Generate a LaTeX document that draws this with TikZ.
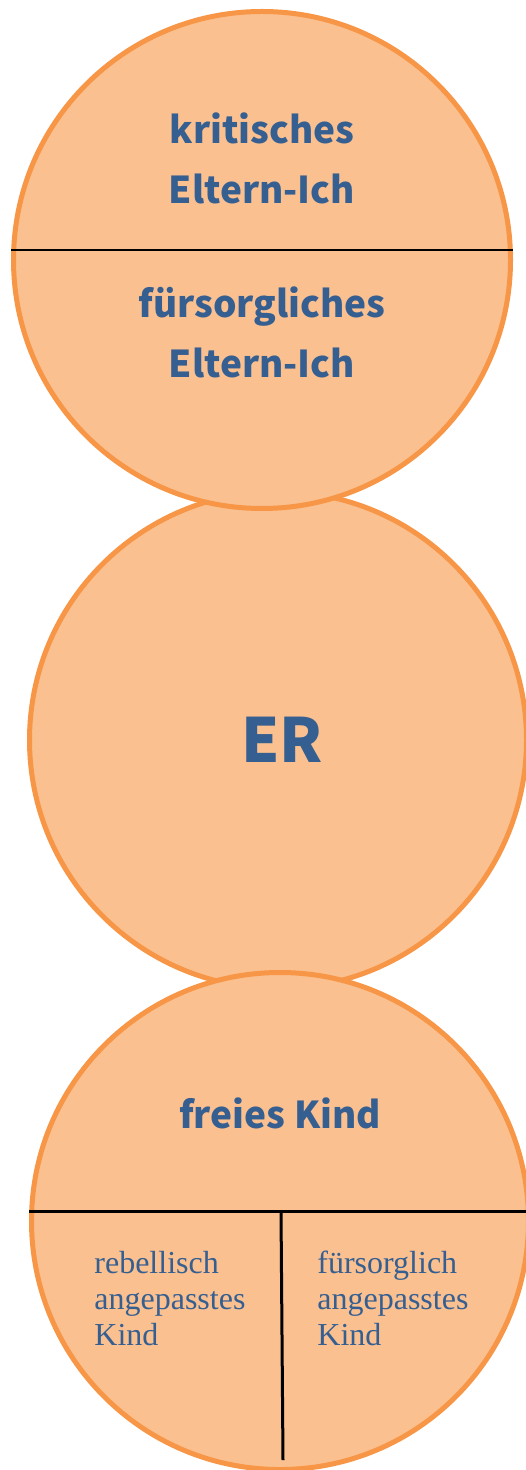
\documentclass[tikz,border=0pt]{standalone}
\usepackage{fontspec}
\setmainfont{Liberation Serif}
\newfontfamily\headfont{Noto Sans CJK JP}
\usetikzlibrary{positioning}
\definecolor{egofill}{HTML}{FAC090}
\definecolor{egoline}{HTML}{F79646}
\definecolor{egotext}{HTML}{365F91}

\begin{document}
\begin{tikzpicture}[
    x=0.5pt, y=-0.5pt,
    ego/.style={circle, draw=egoline, fill=egofill, line width=2.5pt,
      minimum size=248.5pt, inner sep=0pt},
    head/.style={font=\headfont\bfseries\fontsize{18.5}{30}\selectfont,
      text=egotext, align=center},
    small/.style={font=\fontsize{16}{18}\selectfont, text=egotext,
      align=left, inner sep=0pt, anchor=north west},
    divider/.style={draw=black, line width=1pt}
]
  \useasboundingbox (0,0) rectangle (525,1470);

  % ER first, the other two circles lie over it
  \node[ego] (er) at (278,740) {};
  \node[ego] (eltern) at (262,260) {};
  \node[ego] (kind) at (280,1221) {};

  % Dividers
  \draw[divider] ([yshift=5pt]eltern.west) -- ([yshift=5pt]eltern.east);
  \draw[divider, line width=1.5pt] ([yshift=5pt]kind.west) -- ([yshift=5pt]kind.east);
  \coordinate (split) at (281,1211);
  \coordinate (foot) at (283,1460);
  \draw[divider, line width=1.5pt] (split) -- (foot);

  % Labels
  \node[head] (critical) at (262,158) {kritisches\\Eltern-Ich};
  \node[head] (nurturing) at (262,332) {fürsorgliches\\Eltern-Ich};
  \node[head, font=\headfont\bfseries\fontsize{30.5}{32}\selectfont] (adult) at (282,740) {ER};
  \node[head] (free) at (280,1113) {freies Kind};
  \node[small] (rebel) at (94,1251) {rebellisch\\angepasstes\\Kind};
  \node[small] (adapted) at (317,1251) {fürsorglich\\angepasstes\\Kind};
\end{tikzpicture}
\end{document}
